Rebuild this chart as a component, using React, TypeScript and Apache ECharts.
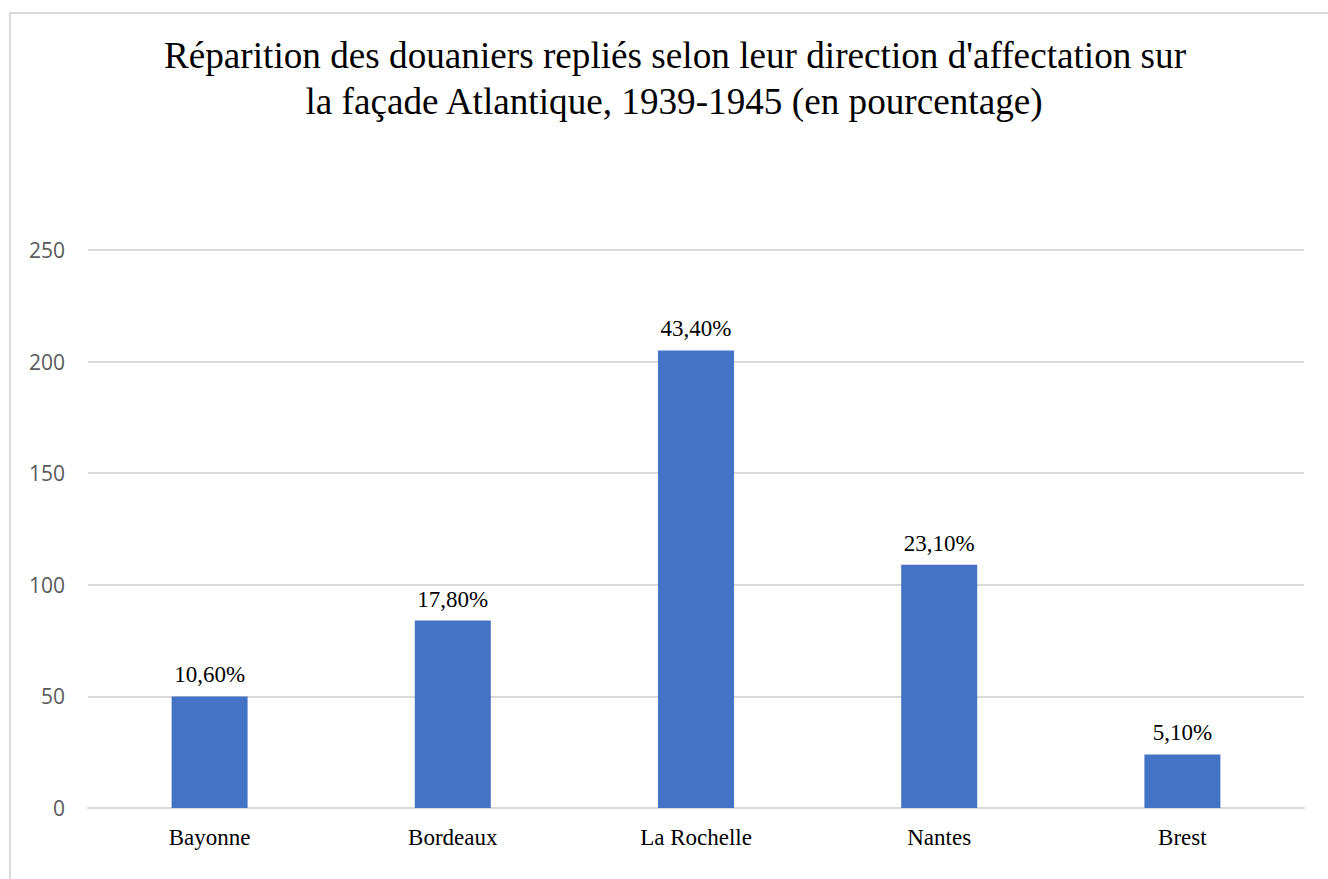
import React, { useEffect, useRef } from "react";
import * as echarts from "echarts";

const titleLines = [
  "Réparition des douaniers repliés selon leur direction d'affectation sur",
  "la façade Atlantique, 1939-1945 (en pourcentage)",
];
const categories = ["Bayonne", "Bordeaux", "La Rochelle", "Nantes", "Brest"];
const values = [50, 84, 205, 109, 24];
const percentLabels = ["10,60%", "17,80%", "43,40%", "23,10%", "5,10%"];
const yTicks = [0, 50, 100, 150, 200, 250];

const SERIF = "'Liberation Serif', 'Times New Roman', serif";
const SANS = "'Open Sans', 'Liberation Sans', sans-serif";

export default function App() {
  const ref = useRef<HTMLDivElement>(null);
  useEffect(() => {
    if (!ref.current) return;
    const chart = echarts.init(ref.current, null, { renderer: "svg" });
    chart.setOption({
      animation: false,
      backgroundColor: "#ffffff",
      grid: { left: 88, right: 24, top: 250, bottom: 71, containLabel: false },
      graphic: [
        {
          type: "rect",
          shape: { x: 10, y: 13, width: 1340, height: 900 },
          style: { fill: "none", stroke: "#d9d9d9", lineWidth: 2 },
          silent: true,
        },
        {
          type: "text",
          x: 675,
          y: 74,
          style: {
            text: titleLines[0],
            font: `37.2px ${SERIF}`,
            fill: "#000000",
            textAlign: "center",
            textVerticalAlign: "bottom",
          },
        },
        {
          type: "text",
          x: 674,
          y: 120,
          style: {
            text: titleLines[1],
            font: `37.2px ${SERIF}`,
            fill: "#000000",
            textAlign: "center",
            textVerticalAlign: "bottom",
          },
        },
      ],
      xAxis: {
        type: "category",
        data: categories,
        axisLine: { show: true, lineStyle: { color: "#d9d9d9", width: 2 } },
        axisTick: { show: false },
        axisLabel: {
          color: "#000000",
          fontFamily: SERIF,
          fontSize: 23,
          margin: 18,
        },
      },
      yAxis: {
        type: "value",
        min: yTicks[0],
        max: yTicks[yTicks.length - 1],
        interval: 50,
        axisLine: { show: false },
        axisTick: { show: false },
        splitLine: { lineStyle: { color: "#d9d9d9", width: 2 } },
        axisLabel: {
          color: "#595959",
          fontFamily: SANS,
          fontSize: 21,
          margin: 23,
        },
      },
      series: [
        {
          type: "bar",
          data: values,
          barWidth: 76,
          itemStyle: { color: "#4472c4" },
          label: {
            show: true,
            position: "top",
            distance: 10,
            color: "#000000",
            fontFamily: SERIF,
            fontSize: 23,
            formatter: (p: any) => percentLabels[p.dataIndex],
          },
        },
      ],
    });
    return () => chart.dispose();
  }, []);
  return (
    <div
      ref={ref}
      style={{ position: "absolute", left: 0, top: 0, width: 1328, height: 879 }}
    />
  );
}
